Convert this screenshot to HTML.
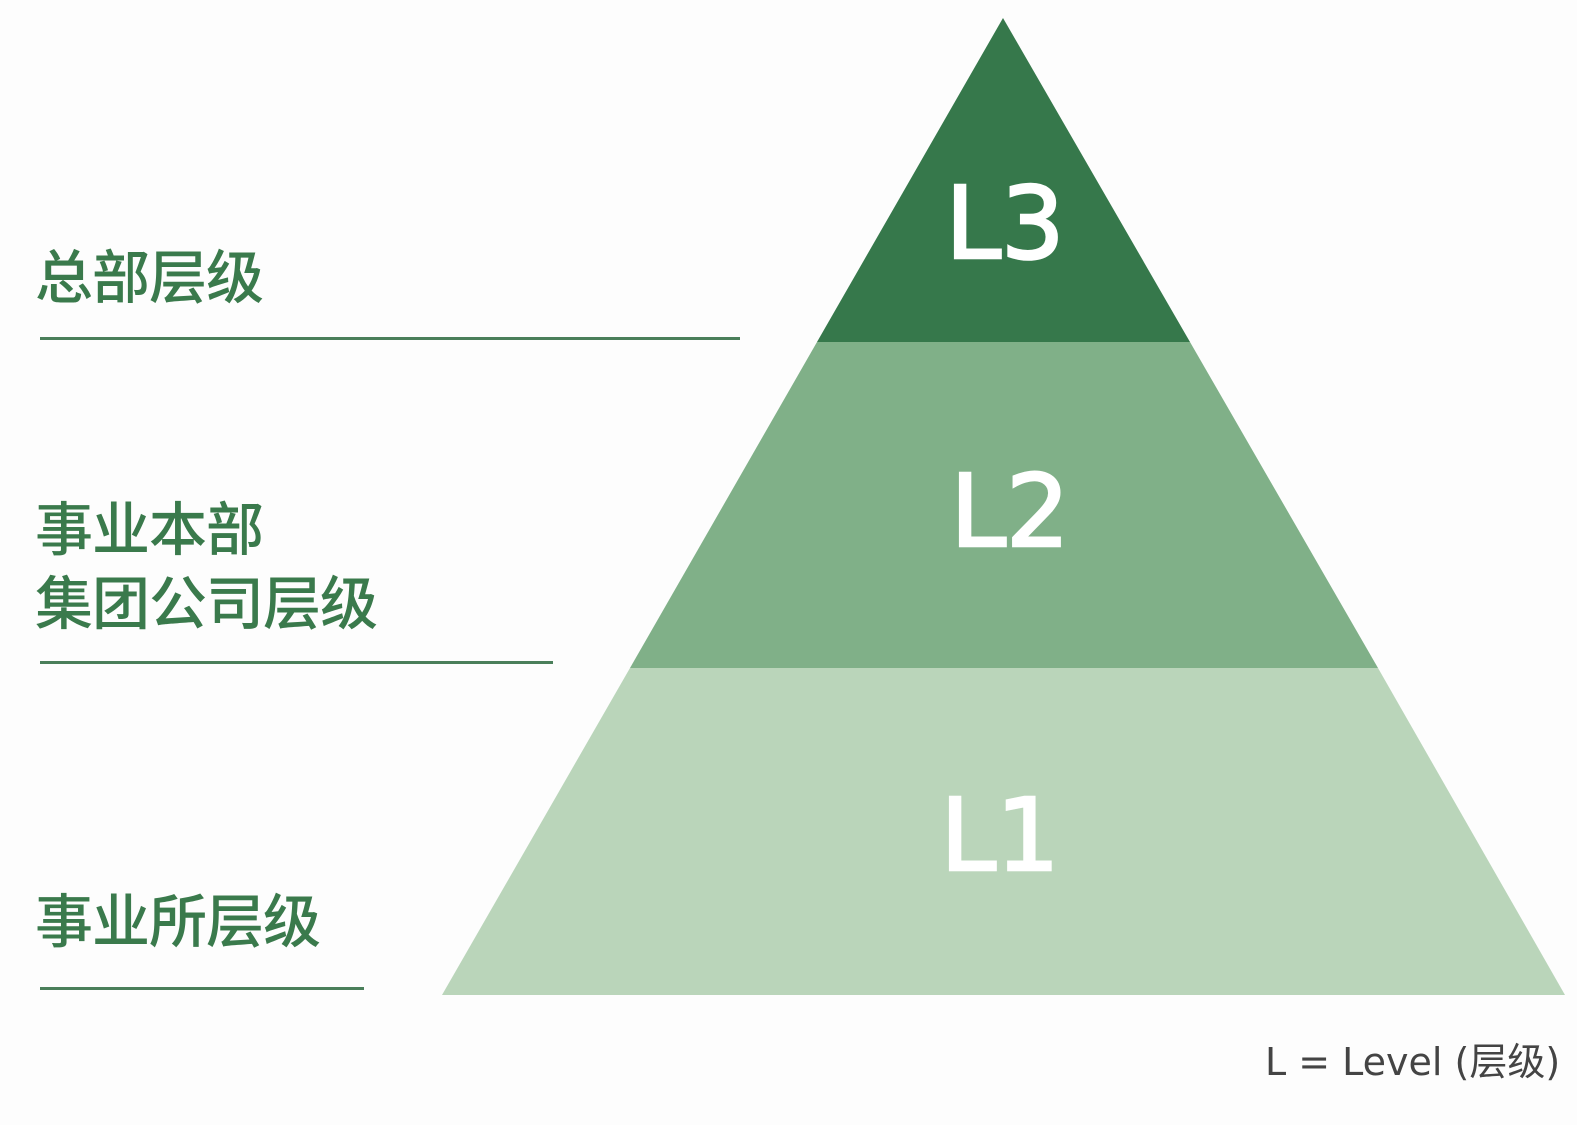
<!DOCTYPE html>
<html><head><meta charset="utf-8"><style>
html,body{margin:0;padding:0;background:#fdfdfd;}
body{width:1577px;height:1125px;position:relative;overflow:hidden;}
.t{position:absolute;left:35px;color:#3a7a4c;font-family:"Liberation Sans","Noto Sans CJK SC",sans-serif;font-weight:500;font-size:58px;line-height:72px;white-space:nowrap;letter-spacing:-1px;}
.ln{position:absolute;left:40px;height:3px;background:#4a7f5a;}
</style></head><body>
<svg width="1577" height="1125" style="position:absolute;left:0;top:0">
<polygon points="1003,18 1190,342 817,342" fill="#36784b"/>
<polygon points="817,342 1190,342 1378,668 630,668" fill="#80b088"/>
<polygon points="630,668 1378,668 1565,995 442,995" fill="#bad5ba"/>
<g fill="#ffffff" stroke="#ffffff" stroke-width="2.5" font-family="DejaVu Sans, Liberation Sans, sans-serif" font-size="100">
<text x="1005" y="258" text-anchor="middle">L3</text>
<text x="1010" y="546" text-anchor="middle">L2</text>
<text x="1000" y="870" text-anchor="middle">L1</text>
</g>
<text x="1265" y="1075" fill="#444" font-family="DejaVu Sans, Noto Sans CJK SC, sans-serif" font-size="38">L = Level (层级)</text>
</svg>
<div class="t" style="top:243px">总部层级</div>
<div class="ln" style="top:337px;width:700px"></div>
<div class="t" style="top:495px">事业本部</div>
<div class="t" style="top:569px">集团公司层级</div>
<div class="ln" style="top:661px;width:513px"></div>
<div class="t" style="top:887px">事业所层级</div>
<div class="ln" style="top:987px;width:324px"></div>
</body></html>
